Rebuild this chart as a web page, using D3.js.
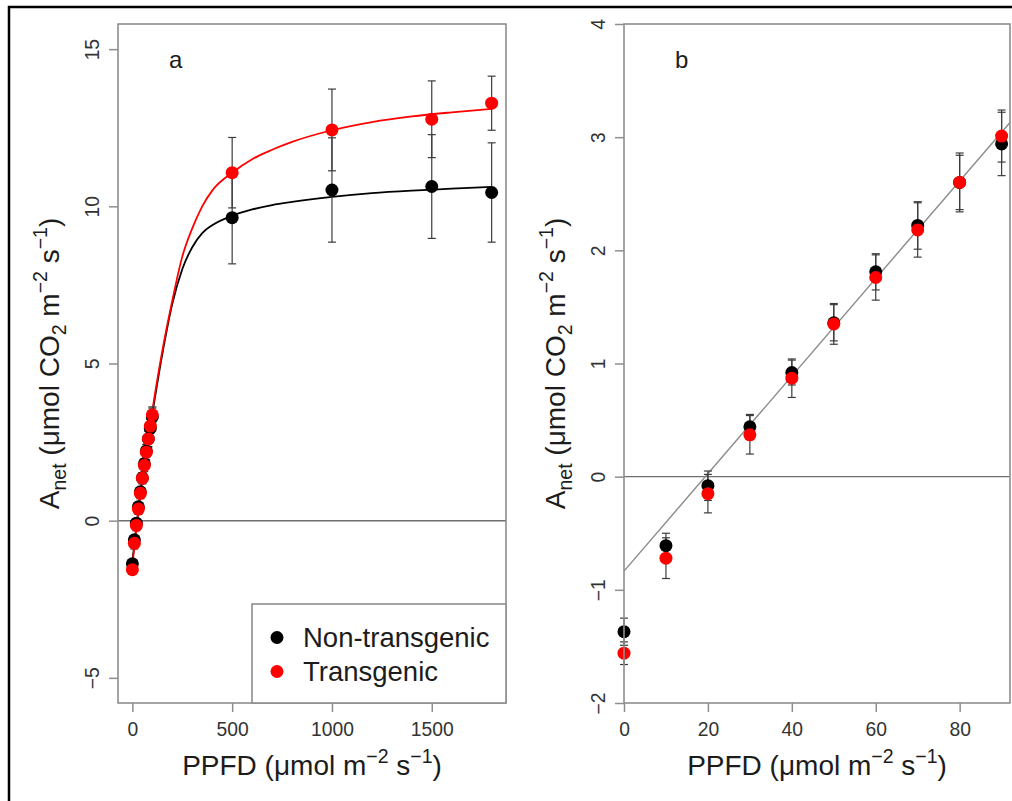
<!DOCTYPE html>
<html>
<head>
<meta charset="utf-8">
<script src="https://cdn.jsdelivr.net/npm/d3@7"></script>
<style>
  body { margin: 0; background: #fff; }
  svg { display: block; font-family: "Liberation Sans", Arial, sans-serif; }
</style>
</head>
<body>
<div id="chart"></div>
<script>
// low light points (shared by both panels)
var lowPPFD = [0, 10, 20, 30, 40, 50, 60, 70, 80, 90, 100];
var lowNonTrans = [-1.37, -0.61, -0.08, 0.44, 0.92, 1.36, 1.81, 2.22, 2.60, 2.94, 3.30];
var lowNonTransSE = [0.12, 0.11, 0.13, 0.11, 0.11, 0.16, 0.16, 0.21, 0.24, 0.28, 0.28];
var lowTrans = [-1.56, -0.72, -0.15, 0.37, 0.87, 1.35, 1.76, 2.18, 2.60, 3.01, 3.37];
var lowTransSE = [0.10, 0.18, 0.17, 0.17, 0.17, 0.18, 0.20, 0.24, 0.26, 0.23, 0.25];

// high light points (panel a only)
var highPPFD = [500, 1000, 1500, 1800];
var highNonTrans = [9.64, 10.52, 10.63, 10.44];
var highNonTransSE = [1.47, 1.66, 1.65, 1.58];
var highTrans = [11.07, 12.43, 12.77, 13.28];
var highTransSE = [1.12, 1.30, 1.22, 0.86];

// fitted light response curves
var fitPPFD = [0, 50, 100, 150, 200, 250, 300, 350, 400, 500, 600, 700, 800, 1000, 1200, 1400, 1600, 1800];
var fitNonTrans = [-1.3, 1.35, 3.4, 5.3, 6.9, 8.0, 8.7, 9.15, 9.4, 9.7, 9.9, 10.04, 10.14, 10.3, 10.42, 10.5, 10.56, 10.62];
var fitTrans = [-1.4, 1.3, 3.5, 5.4, 7.0, 8.4, 9.3, 10.0, 10.5, 11.07, 11.5, 11.8, 12.05, 12.42, 12.68, 12.86, 12.99, 13.1];

// linear fit in panel b (end points)
var linePPFD = [0, 92];
var lineAnet = [-0.835, 3.13];

var ticksA_x = [0, 500, 1000, 1500];
var ticksA_y = [-5, 0, 5, 10, 15];
var ticksB_x = [0, 20, 40, 60, 80];
var ticksB_y = [-2, -1, 0, 1, 2, 3, 4];

var legendLabels = ["Non-transgenic", "Transgenic"];
var seriesColors = ["#000000", "#ff0000"];

var W = 1012, H = 801;
var boxColor = "#8e8e8e", barColor = "#3c3c3c", tickText = "#333", titleText = "#1c1c1c";

var svg = d3.select("#chart").append("svg").attr("width", W).attr("height", H);

// outer frame (cropped on right and bottom)
svg.append("path")
    .attr("d", "M9,801 L9,7 L1012,7")
    .attr("fill", "none").attr("stroke", "#000").attr("stroke-width", 2.5);

function makeSeries(xs, ys, ses) {
    return xs.map((x, i) => ({ x: x, y: ys[i], se: ses[i] }));
}

function yTitle(g, x, y) {
    var t = g.append("text")
        .attr("transform", `translate(${x},${y}) rotate(-90)`)
        .attr("text-anchor", "middle")
        .attr("font-size", 28)
        .attr("fill", titleText);
    t.append("tspan").text("A");
    t.append("tspan").attr("font-size", 19.5).attr("dy", 7).text("net");
    t.append("tspan").attr("dy", -7).text(" (\u03bcmol CO");
    t.append("tspan").attr("font-size", 19.5).attr("dy", 7).text("2");
    t.append("tspan").attr("dy", -7).text(" m");
    t.append("tspan").attr("font-size", 19.5).attr("dy", -12).text("\u22122");
    t.append("tspan").attr("dy", 12).text(" s");
    t.append("tspan").attr("font-size", 19.5).attr("dy", -12).text("\u22121");
    t.append("tspan").attr("dy", 12).text(")");
}

function xTitle(g, x, y) {
    var t = g.append("text")
        .attr("x", x).attr("y", y)
        .attr("text-anchor", "middle")
        .attr("font-size", 28)
        .attr("fill", titleText);
    t.append("tspan").text("PPFD (\u03bcmol m");
    t.append("tspan").attr("font-size", 19.5).attr("dy", -12).text("\u22122");
    t.append("tspan").attr("dy", 12).text(" s");
    t.append("tspan").attr("font-size", 19.5).attr("dy", -12).text("\u22121");
    t.append("tspan").attr("dy", 12).text(")");
}

function drawPanel(p) {
    var x = d3.scaleLinear().domain(p.xDomain).range([p.left, p.right]);
    var y = d3.scaleLinear().domain(p.yDomain).range([p.bottom, p.top]);
    var g = svg.append("g");

    // axes
    var xa = g.append("g").attr("transform", `translate(0,${p.bottom})`)
        .call(d3.axisBottom(x).tickValues(p.xTicks).tickSize(9).tickFormat(d3.format("d")));
    xa.select(".domain").remove();
    xa.selectAll("line").attr("stroke", boxColor).attr("stroke-width", 1.5);
    xa.selectAll("text").attr("y", 33).attr("dy", 0).attr("font-size", 19.3)
        .attr("fill", tickText).attr("font-family", "Liberation Sans, Arial, sans-serif");

    var ya = g.append("g").attr("transform", `translate(${p.left},0)`)
        .call(d3.axisLeft(y).tickValues(p.yTicks).tickSize(9).tickFormat(d3.format("d")));
    ya.select(".domain").remove();
    ya.selectAll("line").attr("stroke", boxColor).attr("stroke-width", 1.5);
    ya.selectAll("text")
        .attr("x", 0).attr("dy", 0)
        .attr("transform", "translate(-19,0) rotate(-90)")
        .attr("text-anchor", "middle")
        .attr("font-size", 19.3).attr("fill", tickText)
        .attr("font-family", "Liberation Sans, Arial, sans-serif");

    // zero line
    g.append("line")
        .attr("x1", p.left).attr("x2", p.right)
        .attr("y1", y(0)).attr("y2", y(0))
        .attr("stroke", "#6f6f6f").attr("stroke-width", 1.4);

    if (p.extra) p.extra(g, x, y);

    // error bars then points
    p.series.forEach((s, si) => {
        var eb = g.append("g").attr("stroke", barColor).attr("stroke-width", 1.2);
        s.forEach(d => {
            eb.append("line").attr("x1", x(d.x)).attr("x2", x(d.x))
                .attr("y1", y(d.y - d.se)).attr("y2", y(d.y + d.se));
            [d.y - d.se, d.y + d.se].forEach(v => {
                eb.append("line").attr("x1", x(d.x) - 4).attr("x2", x(d.x) + 4)
                    .attr("y1", y(v)).attr("y2", y(v));
            });
        });
    });
    p.series.forEach((s, si) => {
        g.append("g").selectAll("circle").data(s).enter().append("circle")
            .attr("cx", d => x(d.x)).attr("cy", d => y(d.y))
            .attr("r", 6.5).attr("fill", seriesColors[si]);
    });

    // box
    g.append("rect")
        .attr("x", p.left).attr("y", p.top)
        .attr("width", p.right - p.left).attr("height", p.bottom - p.top)
        .attr("fill", "none").attr("stroke", boxColor).attr("stroke-width", 1.6);

    g.append("text").attr("x", p.labelX).attr("y", 68)
        .attr("font-size", 24).attr("fill", titleText).text(p.label);

    xTitle(g, (p.left + p.right) / 2, 775);
    yTitle(g, p.left - 59, (p.top + p.bottom) / 2);
    return { x: x, y: y, g: g };
}

// panel a
var panelA = drawPanel({
    left: 118, right: 506, top: 24, bottom: 703,
    xDomain: [-72, 1872], yDomain: [-5.8, 15.8],
    xTicks: ticksA_x, yTicks: ticksA_y,
    label: "a", labelX: 169,
    series: [
        makeSeries(lowPPFD.concat(highPPFD), lowNonTrans.concat(highNonTrans), lowNonTransSE.concat(highNonTransSE)),
        makeSeries(lowPPFD.concat(highPPFD), lowTrans.concat(highTrans), lowTransSE.concat(highTransSE))
    ],
    extra: function(g, x, y) {
        var line = d3.line().x(d => x(d[0])).y(d => y(d[1])).curve(d3.curveMonotoneX);
        g.append("path").datum(fitPPFD.map((v, i) => [v, fitNonTrans[i]]))
            .attr("d", line).attr("fill", "none").attr("stroke", "#000").attr("stroke-width", 1.8);
        g.append("path").datum(fitPPFD.map((v, i) => [v, fitTrans[i]]))
            .attr("d", line).attr("fill", "none").attr("stroke", "#ff0000").attr("stroke-width", 1.8);
    }
});

// legend in panel a
var leg = panelA.g.append("g");
leg.append("rect").attr("x", 252).attr("y", 604).attr("width", 506 - 252).attr("height", 703 - 604)
    .attr("fill", "#fff").attr("stroke", boxColor).attr("stroke-width", 1.6);
legendLabels.forEach((lab, i) => {
    leg.append("circle").attr("cx", 277).attr("cy", 637.5 + i * 34).attr("r", 6.5).attr("fill", seriesColors[i]);
    leg.append("text").attr("x", 303).attr("y", 647 + i * 34)
        .attr("font-size", 27.5).attr("fill", titleText).text(lab);
});

// panel b
drawPanel({
    left: 624, right: 1010, top: 24, bottom: 703,
    xDomain: [0, 92], yDomain: [-2, 4],
    xTicks: ticksB_x, yTicks: ticksB_y,
    label: "b", labelX: 675,
    series: [
        makeSeries(lowPPFD, lowNonTrans, lowNonTransSE).filter(d => d.x <= 92),
        makeSeries(lowPPFD, lowTrans, lowTransSE).filter(d => d.x <= 92)
    ],
    extra: function(g, x, y) {
        g.append("line")
            .attr("x1", x(linePPFD[0])).attr("y1", y(lineAnet[0]))
            .attr("x2", x(linePPFD[1])).attr("y2", y(lineAnet[1]))
            .attr("stroke", "#8a8a8a").attr("stroke-width", 1.4);
    }
});
</script>
</body>
</html>
